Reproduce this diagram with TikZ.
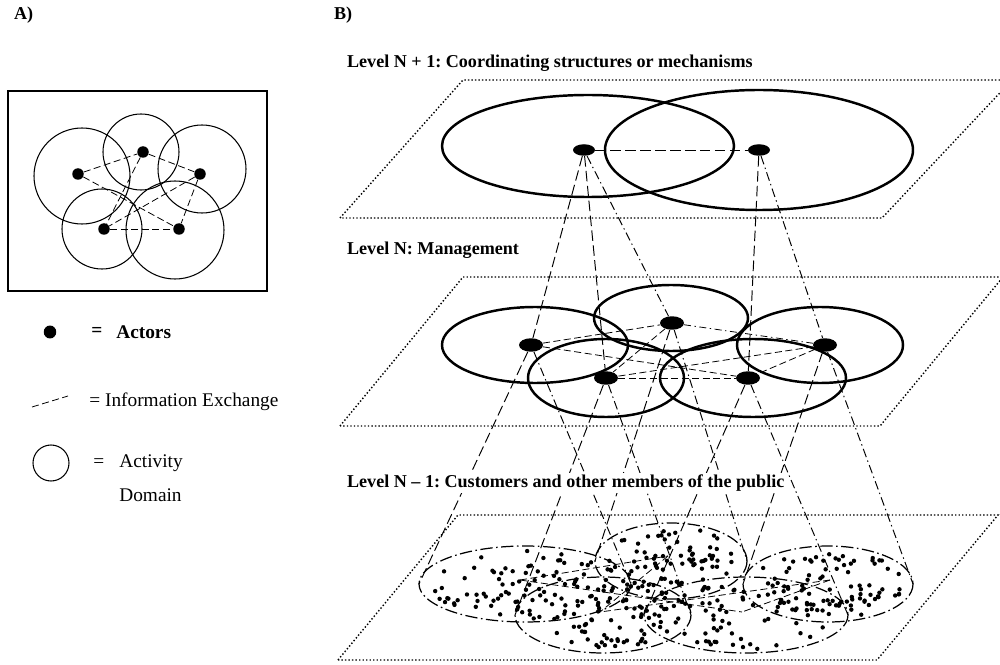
\documentclass[tikz,border=0pt]{standalone}
\usepackage{fontspec}
\setmainfont{Liberation Serif}
\usetikzlibrary{shapes.geometric}
\frenchspacing

\begin{document}
\begin{tikzpicture}[x=0.02cm,y=-0.02cm,
  actor/.style={ellipse,fill,inner sep=0pt},
  actdomain/.style={line width=0.6pt},
  bigdomain/.style={line width=1.4pt},
  publicdomain/.style={line width=0.7pt,dash pattern=on 7pt off 2pt on 0.9pt off 2pt},
  plane/.style={line width=0.8pt,dash pattern=on 0.8pt off 1.2pt},
  infoex/.style={line width=0.45pt,dash pattern=on 4pt off 2pt},
  infodot/.style={line width=0.45pt,dash pattern=on 4pt off 2pt on 0.8pt off 2pt},
  link/.style={line width=0.55pt,dash pattern=on 6pt off 2.5pt},
  linkdot/.style={line width=0.55pt,dash pattern=on 5pt off 2pt on 0.8pt off 2pt},
  level/.style={anchor=west,inner sep=1pt,fill=white,font=\bfseries\fontsize{10.3}{12}\selectfont},
  key/.style={anchor=west,inner sep=0pt,font=\fontsize{11}{13}\selectfont}]

\path[use as bounding box] (0,0) rectangle (1000,665);
\clip (0,0) rectangle (1000,665);

\node[level] (labA) at (12,15) {A)};
\node[level] (labB) at (332,15) {B)};

% A) actors and their activity domains
\draw[actdomain] (8,91) rectangle (267,291);
\draw[actdomain] (82,176) circle (48);
\draw[actdomain] (141,152) circle (38);
\draw[actdomain] (202,169) circle (44);
\draw[actdomain] (102,229) circle (40);
\draw[actdomain] (175,230) circle (49);

\node[actor,minimum width=0.23cm,minimum height=0.23cm] (a1) at (78,174) {};
\node[actor,minimum width=0.23cm,minimum height=0.23cm] (a2) at (143,152) {};
\node[actor,minimum width=0.23cm,minimum height=0.23cm] (a3) at (200,174) {};
\node[actor,minimum width=0.23cm,minimum height=0.23cm] (a4) at (104,229) {};
\node[actor,minimum width=0.23cm,minimum height=0.23cm] (a5) at (179,229) {};

\draw[infoex] (a1) -- (a2);
\draw[infoex] (a1) -- (a5);
\draw[infoex] (a2) -- (a3);
\draw[infoex] (a2) -- (a4);
\draw[infoex] (a3) -- (a4);
\draw[infoex] (a3) -- (a5);
\draw[infoex] (a4) -- (a5);

% legend
\node[actor,minimum width=0.25cm,minimum height=0.26cm] (keyactor) at (50,332) {};
\node[key,font=\bfseries\fontsize{11}{13}\selectfont] (keyeq1) at (91,332) {=};
\node[key,font=\bfseries\fontsize{11}{13}\selectfont] (keyactors) at (116,332) {Actors};
\coordinate (keyfrom) at (32,407);
\coordinate (keyto) at (68,396);
\draw[infoex] (keyfrom) -- (keyto);
\node[key] (keyinfo) at (89,402) {= Information Exchange};
\draw[actdomain] (51,463) circle (18);
\node[key] (keyeq3) at (93,463) {=};
\node[key] (keyact) at (119,463) {Activity};
\node[key] (keydom) at (119,495) {Domain};

% B) level N+1
\node[level] (levtop) at (345,63) {Level N + 1: Coordinating structures or mechanisms};
\draw[plane] (340,218) -- (463,80) -- (1012,80) -- (882,218) -- cycle;
\draw[bigdomain] (588,146) ellipse (146 and 51);
\draw[bigdomain] (759,150) ellipse (154 and 60);
\node[actor,minimum width=0.44cm,minimum height=0.23cm] (c1) at (584,150) {};
\node[actor,minimum width=0.44cm,minimum height=0.23cm] (c2) at (759,150) {};
\draw[link] (c1) -- (c2);

% level N
\node[level] (levmid) at (345,250) {Level N: Management};
\draw[plane] (340,426) -- (463,277) -- (1003,277) -- (880,426) -- cycle;
\draw[bigdomain] (535,345) ellipse (93 and 38);
\draw[bigdomain] (671,318) ellipse (77 and 33);
\draw[bigdomain] (820,345) ellipse (83 and 38);
\draw[bigdomain] (606,378) ellipse (78 and 39);
\draw[bigdomain] (753,378) ellipse (93 and 39);

\node[actor,minimum width=0.48cm,minimum height=0.27cm] (m1) at (531,345) {};
\node[actor,minimum width=0.48cm,minimum height=0.27cm] (m2) at (672,323) {};
\node[actor,minimum width=0.48cm,minimum height=0.27cm] (m3) at (825,345) {};
\node[actor,minimum width=0.48cm,minimum height=0.27cm] (m4) at (606,378) {};
\node[actor,minimum width=0.48cm,minimum height=0.27cm] (m5) at (748,378) {};

\draw[infoex] (m1) -- (m2);
\draw[infoex] (m1) -- (m5);
\draw[infodot] (m2) -- (m3);
\draw[infoex] (m2) -- (m4);
\draw[infoex] (m3) -- (m4);
\draw[infoex] (m3) -- (m5);
\draw[infoex] (m4) -- (m5);

\draw[link] (c1) -- (m1);
\draw[link] (c1) -- (m4);
\draw[linkdot] (c1) -- (m2);
\draw[link] (c2) -- (m5);
\draw[linkdot] (c2) -- (m3);

% level N-1
\draw[plane] (338,660) -- (458,515) -- (998,515) -- (877,660) -- cycle;

\pgfmathsetseed{2718}
\foreach \cx/\cy/\rx/\ry in {525/584/106/38, 671/561/76/38, 828/584/85/38, 603/615/88/38, 746/615/102/38}{
  \draw[publicdomain] (\cx,\cy) ellipse [x radius=\rx, y radius=\ry];
  \foreach \k in {1,...,80}{
    \pgfmathsetmacro{\ang}{360*rnd}
    \pgfmathsetmacro{\rad}{0.9*sqrt(rnd)}
    \fill ({\cx+\rx*\rad*cos(\ang)},{\cy+\ry*\rad*sin(\ang)}) circle (2.2);
  }
}

\coordinate (p1w) at (419,584);
\coordinate (p1e) at (631,584);
\coordinate (p2w) at (595,561);
\coordinate (p2e) at (747,561);
\coordinate (p3w) at (743,584);
\coordinate (p3e) at (913,584);
\coordinate (p4w) at (515,615);
\coordinate (p4e) at (691,615);
\coordinate (p5w) at (644,615);
\coordinate (p5e) at (848,615);

\draw[link] (m1) -- (p1w);
\draw[linkdot] (m1) -- (p1e);
\draw[link] (m2) -- (p2w);
\draw[linkdot] (m2) -- (p2e);
\draw[link] (m3) -- (p3w);
\draw[linkdot] (m3) -- (p3e);
\draw[link] (m4) -- (p4w);
\draw[linkdot] (m4) -- (p4e);
\draw[link] (m5) -- (p5w);
\draw[linkdot] (m5) -- (p5e);

% exchange among the public
\coordinate (q1) at (520,580);
\coordinate (q2) at (668,556);
\coordinate (q3) at (830,580);
\coordinate (q4) at (600,612);
\coordinate (q5) at (742,612);
\draw[infoex] (q1) -- (q2);
\draw[infoex] (q1) -- (q5);
\draw[infoex] (q2) -- (q4);
\draw[infoex] (q3) -- (q4);
\draw[infoex] (q3) -- (q5);

\node[level] (levlow) at (345,483) {Level N -- 1: Customers and other members of the public};
\end{tikzpicture}
\end{document}
